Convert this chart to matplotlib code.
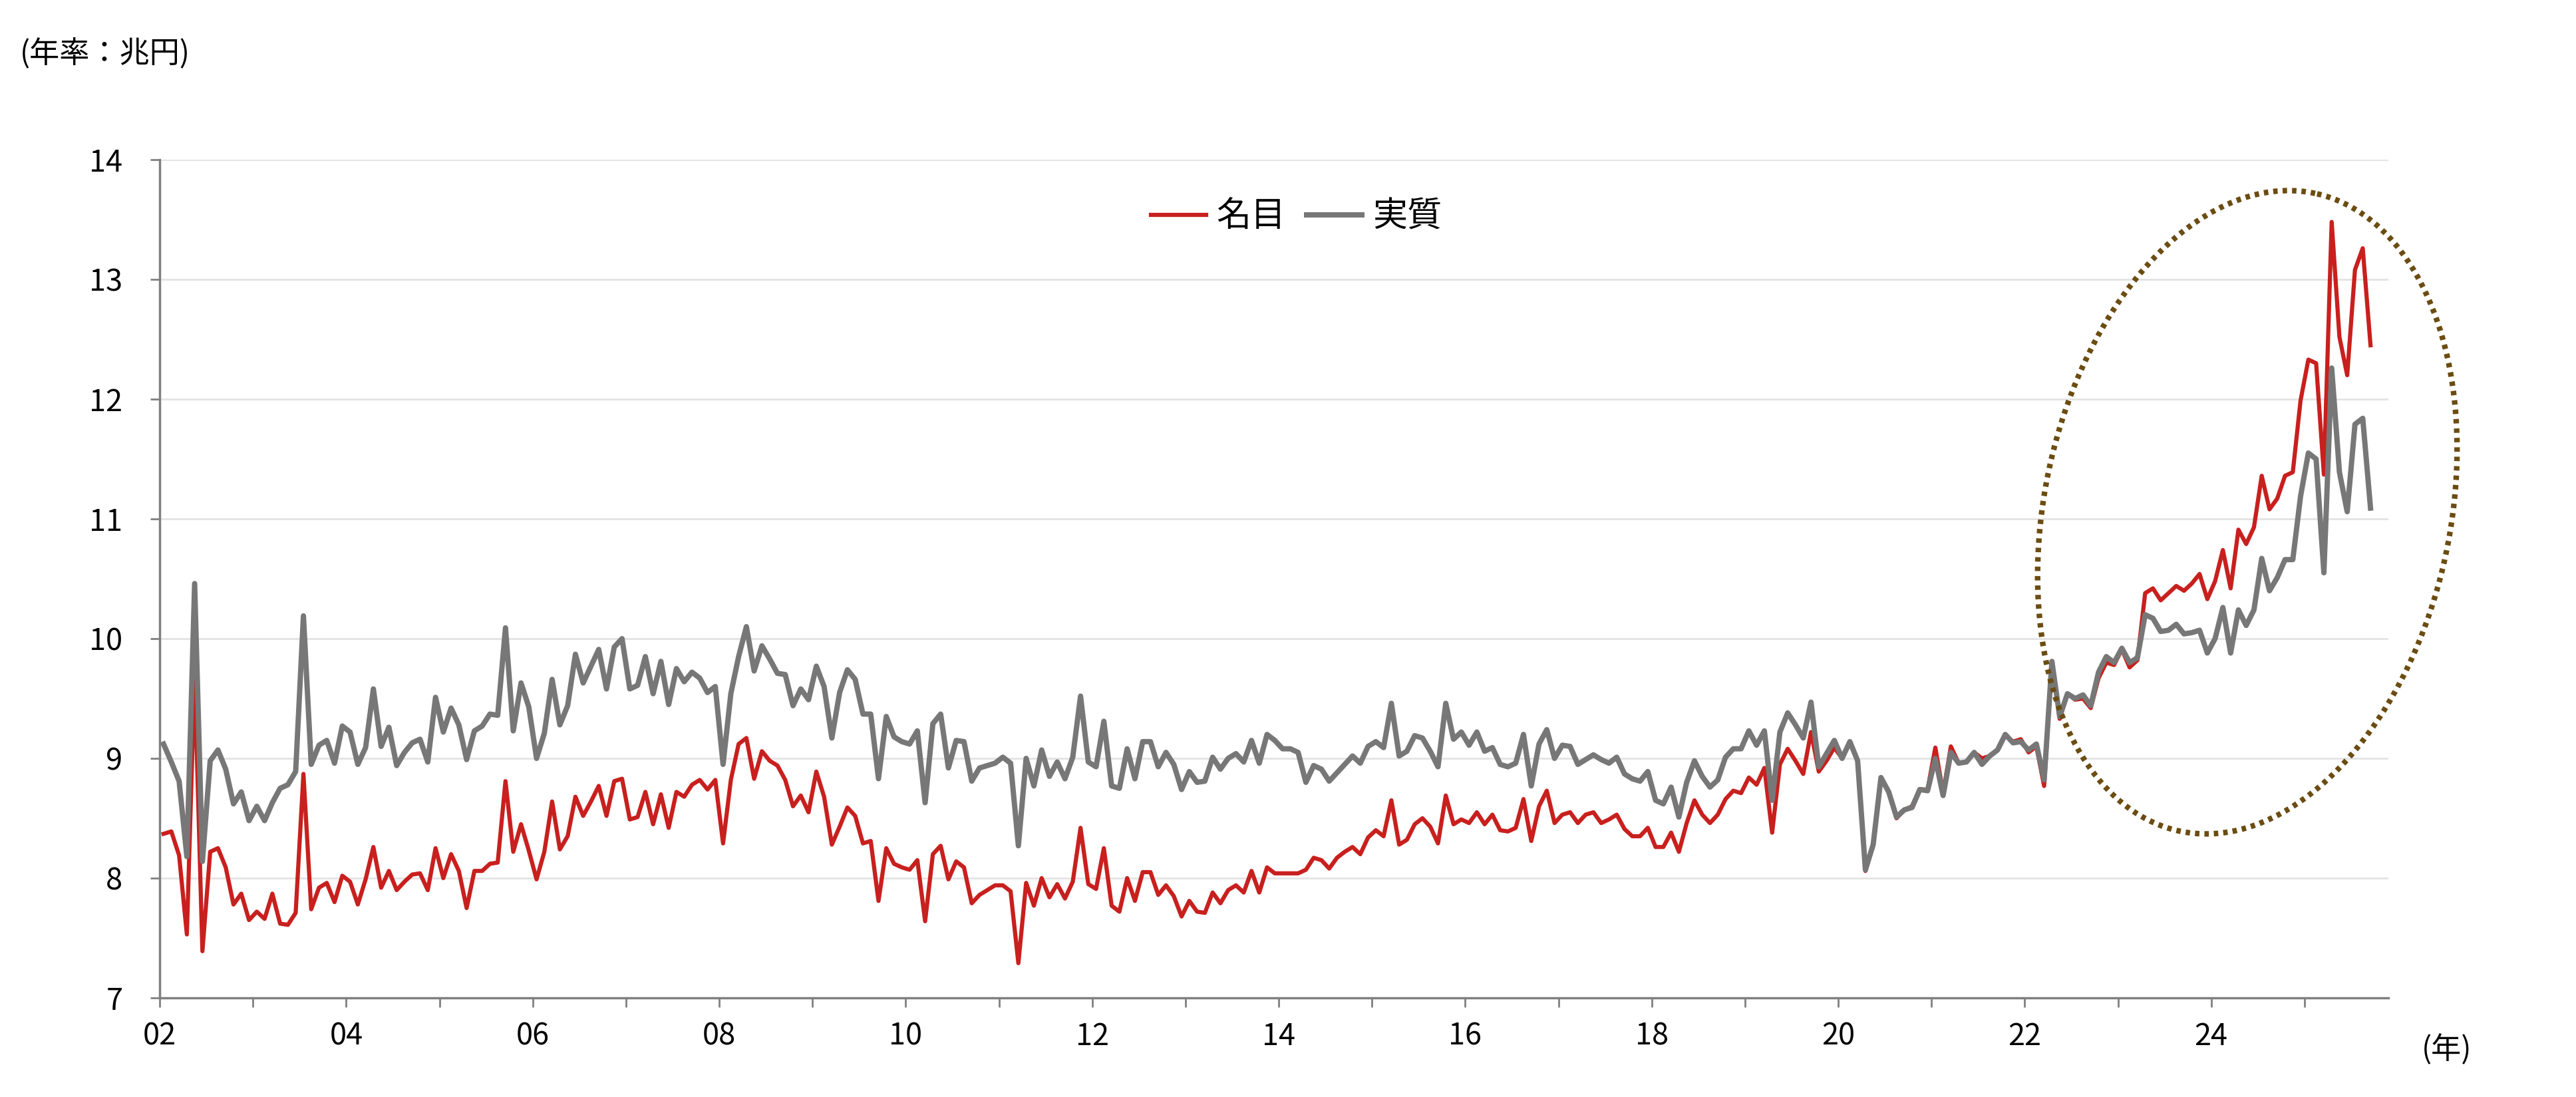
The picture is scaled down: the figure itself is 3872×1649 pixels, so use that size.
import numpy as np
import matplotlib.pyplot as plt
from matplotlib.lines import Line2D

plt.rcParams['font.family'] = ['Noto Sans CJK JP', 'DejaVu Sans']
plt.rcParams['font.size'] = 13

# monthly, 2002-01 .. 2025-09 (年率, 兆円)
nominal = [
    8.37, 8.39, 8.19, 7.53, 9.70, 7.39, 8.22, 8.25, 8.09, 7.78, 7.87, 7.65,
    7.72, 7.66, 7.87, 7.62, 7.61, 7.71, 8.87, 7.74, 7.92, 7.96, 7.80, 8.02,
    7.97, 7.78, 7.99, 8.26, 7.92, 8.06, 7.90, 7.97, 8.03, 8.04, 7.90, 8.25,
    8.00, 8.20, 8.06, 7.75, 8.06, 8.06, 8.12, 8.13, 8.81, 8.22, 8.45, 8.23,
    7.99, 8.22, 8.64, 8.24, 8.35, 8.68, 8.52, 8.64, 8.77, 8.52, 8.81, 8.83,
    8.49, 8.51, 8.72, 8.45, 8.70, 8.42, 8.72, 8.68, 8.78, 8.82, 8.74, 8.82,
    8.29, 8.82, 9.12, 9.17, 8.83, 9.06, 8.98, 8.94, 8.82, 8.60, 8.69, 8.55,
    8.89, 8.68, 8.28, 8.43, 8.59, 8.52, 8.29, 8.31, 7.81, 8.25, 8.12, 8.09,
    8.07, 8.15, 7.64, 8.20, 8.27, 7.99, 8.14, 8.09, 7.79, 7.86, 7.90, 7.94,
    7.94, 7.89, 7.29, 7.96, 7.77, 8.00, 7.84, 7.95, 7.83, 7.97, 8.42, 7.95,
    7.91, 8.25, 7.77, 7.72, 8.00, 7.81, 8.05, 8.05, 7.86, 7.94, 7.85, 7.68,
    7.81, 7.72, 7.71, 7.88, 7.79, 7.90, 7.94, 7.88, 8.06, 7.88, 8.09, 8.04,
    8.04, 8.04, 8.04, 8.07, 8.17, 8.15, 8.08, 8.17, 8.22, 8.26, 8.20, 8.34,
    8.40, 8.35, 8.65, 8.28, 8.32, 8.45, 8.50, 8.43, 8.29, 8.69, 8.45, 8.49,
    8.46, 8.55, 8.45, 8.53, 8.40, 8.39, 8.42, 8.66, 8.31, 8.60, 8.73, 8.46,
    8.53, 8.55, 8.46, 8.53, 8.55, 8.46, 8.49, 8.53, 8.41, 8.35, 8.35, 8.42,
    8.26, 8.26, 8.38, 8.22, 8.46, 8.65, 8.53, 8.46, 8.53, 8.66, 8.73, 8.71,
    8.84, 8.78, 8.92, 8.38, 8.95, 9.08, 8.98, 8.87, 9.22, 8.89, 8.98, 9.09,
    9.00, 9.14, 8.98, 8.06, 8.28, 8.83, 8.72, 8.50, 8.57, 8.60, 8.74, 8.74,
    9.09, 8.71, 9.10, 8.96, 8.97, 9.05, 9.00, 9.02, 9.07, 9.19, 9.14, 9.16,
    9.05, 9.10, 8.77, 9.81, 9.33, 9.54, 9.49, 9.50, 9.42, 9.67, 9.80, 9.78,
    9.91, 9.76, 9.82, 10.38, 10.42, 10.32, 10.38, 10.44, 10.40, 10.46, 10.54, 10.33,
    10.48, 10.74, 10.42, 10.91, 10.79, 10.93, 11.36, 11.08, 11.17, 11.36, 11.39, 11.99,
    12.33, 12.30, 11.37, 13.48, 12.52, 12.20, 13.08, 13.26, 12.45,
]
real = [
    9.12, 8.97, 8.81, 8.18, 10.46, 8.14, 8.98, 9.07, 8.91, 8.62, 8.72, 8.48,
    8.60, 8.48, 8.63, 8.75, 8.78, 8.89, 10.19, 8.95, 9.11, 9.15, 8.96, 9.27,
    9.22, 8.95, 9.09, 9.58, 9.10, 9.26, 8.94, 9.05, 9.13, 9.16, 8.97, 9.51,
    9.22, 9.42, 9.28, 8.99, 9.23, 9.27, 9.37, 9.36, 10.09, 9.23, 9.63, 9.43,
    9.00, 9.21, 9.66, 9.28, 9.44, 9.87, 9.63, 9.77, 9.91, 9.58, 9.93, 10.00,
    9.58, 9.61, 9.85, 9.54, 9.81, 9.45, 9.75, 9.64, 9.72, 9.67, 9.55, 9.60,
    8.95, 9.54, 9.85, 10.10, 9.73, 9.94, 9.83, 9.71, 9.70, 9.44, 9.58, 9.49,
    9.77, 9.60, 9.17, 9.55, 9.74, 9.66, 9.37, 9.37, 8.83, 9.35, 9.18, 9.14,
    9.12, 9.23, 8.63, 9.29, 9.37, 8.92, 9.15, 9.14, 8.81, 8.92, 8.94, 8.96,
    9.01, 8.96, 8.27, 9.00, 8.77, 9.07, 8.85, 8.97, 8.83, 9.01, 9.52, 8.97,
    8.93, 9.31, 8.77, 8.75, 9.08, 8.83, 9.14, 9.14, 8.93, 9.05, 8.95, 8.74,
    8.89, 8.80, 8.81, 9.01, 8.91, 9.00, 9.04, 8.97, 9.15, 8.96, 9.20, 9.15,
    9.08, 9.08, 9.05, 8.80, 8.94, 8.91, 8.81, 8.88, 8.95, 9.02, 8.96, 9.10,
    9.14, 9.09, 9.46, 9.02, 9.06, 9.19, 9.17, 9.06, 8.93, 9.46, 9.16, 9.22,
    9.11, 9.22, 9.06, 9.09, 8.95, 8.93, 8.96, 9.20, 8.77, 9.12, 9.24, 9.00,
    9.11, 9.10, 8.95, 8.99, 9.03, 8.99, 8.96, 9.01, 8.87, 8.83, 8.81, 8.89,
    8.65, 8.62, 8.76, 8.51, 8.80, 8.98, 8.85, 8.76, 8.82, 9.01, 9.08, 9.08,
    9.23, 9.11, 9.23, 8.65, 9.22, 9.38, 9.28, 9.17, 9.47, 8.93, 9.04, 9.15,
    9.00, 9.14, 8.98, 8.07, 8.28, 8.84, 8.72, 8.51, 8.57, 8.59, 8.74, 8.73,
    9.00, 8.69, 9.05, 8.96, 8.97, 9.05, 8.95, 9.02, 9.07, 9.20, 9.13, 9.14,
    9.07, 9.12, 8.82, 9.81, 9.35, 9.54, 9.50, 9.53, 9.44, 9.72, 9.85, 9.80,
    9.92, 9.80, 9.84, 10.20, 10.17, 10.06, 10.07, 10.12, 10.04, 10.05, 10.07, 9.88,
    10.00, 10.26, 9.88, 10.24, 10.11, 10.24, 10.67, 10.40, 10.51, 10.66, 10.66, 11.19,
    11.55, 11.50, 10.55, 12.26, 11.39, 11.06, 11.79, 11.84, 11.09,
]
years = list(range(2002, 2026))
year_labels = ['%02d' % (y % 100) if y % 2 == 0 else '' for y in years]

W, H = 3872, 1649
fig = plt.figure(figsize=(W / 250, H / 250), dpi=250)
ax = fig.add_axes([240 / W, 1 - 1500 / H, (3590 - 240) / W, (1500 - 240) / H])

x = np.arange(len(real))
ax.plot(x, nominal, color='#C8201E', lw=1.8, label='名目', solid_joinstyle='round')
ax.plot(x, real, color='#777777', lw=2.3, label='実質', solid_joinstyle='round')

ax.set_xlim(-0.5, 286.3)
ax.set_ylim(7, 14)
ax.set_yticks(range(7, 15))
ax.set_xticks(np.arange(len(years)) * 12 - 0.5)
ax.set_xticklabels(year_labels)
ax.grid(axis='y', color='#e3e3e3', lw=0.8)
ax.set_axisbelow(True)
for s in ['top', 'right']:
    ax.spines[s].set_visible(False)
for s in ['left', 'bottom']:
    ax.spines[s].set_color('#808080')
    ax.spines[s].set_linewidth(1.0)
ax.tick_params(axis='x', direction='out', length=4, color='#808080', pad=6)
ax.tick_params(axis='y', direction='out', length=4, color='#808080', pad=12)

ax.legend(loc='upper center', bbox_to_anchor=(0.51, 0.99), ncol=2, frameon=False,
          handlelength=1.6, handletextpad=0.3, columnspacing=0.6, fontsize=15)

fig.text(30 / W, 1 - 80 / H, '(年率：兆円)', fontsize=13, va='center')
fig.text(3640 / W, 1 - 1578 / H, '(年)', fontsize=13, va='center')

# dotted ellipse (figure pixels)
t = np.linspace(0, 2 * np.pi, 400)
a, b, th = 490, 305, np.deg2rad(78)
ex = 3378 + a * np.cos(t) * np.cos(th) - b * np.sin(t) * np.sin(th)
ey = 770 - (a * np.cos(t) * np.sin(th) + b * np.sin(t) * np.cos(th))
fig.add_artist(Line2D(ex / W, 1 - ey / H, transform=fig.transFigure,
                      color='#6B4C11', lw=2.4, linestyle=(0, (0.8, 0.9))))

fig.savefig('out.png', dpi=250)
